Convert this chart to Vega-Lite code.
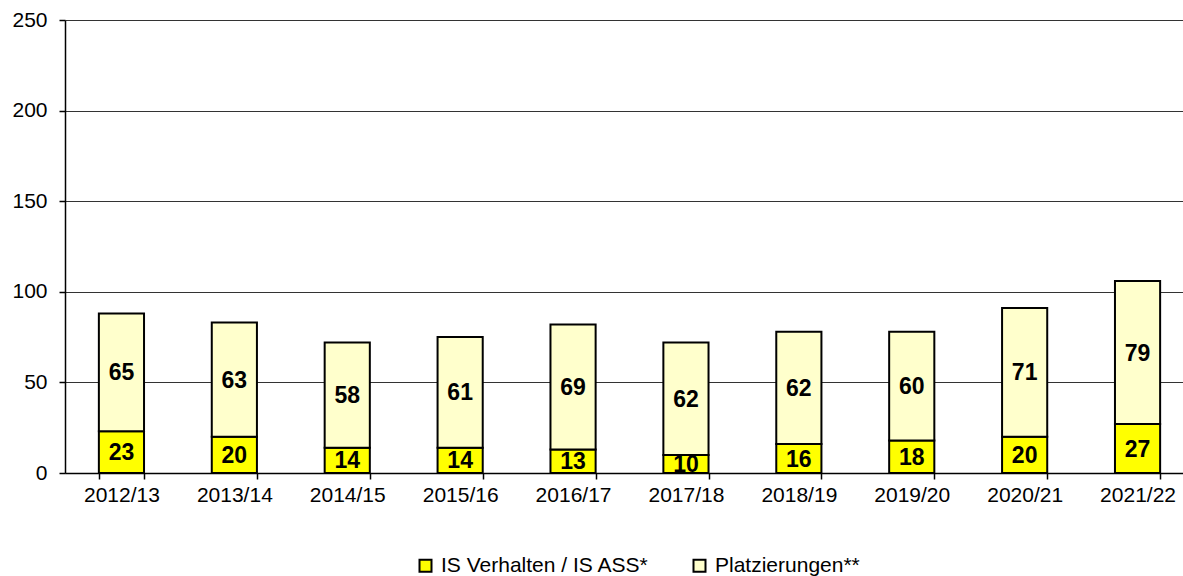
{
  "$schema": "https://vega.github.io/schema/vega-lite/v6.json",
  "autosize": {"type": "none"},
  "width": 1118,
  "height": 453,
  "padding": {"left": 65, "top": 20, "right": 0, "bottom": 103},
  "background": "white",
  "config": {
    "view": {"stroke": null},
    "font": "Liberation Sans",
    "axis": {"labelFont": "Liberation Sans", "labelFontSize": 21, "labelColor": "#000", "domainColor": "#000", "tickColor": "#000", "tickSize": 6, "domainWidth": 1.5, "tickWidth": 1.5}
  },
  "data": {
    "values": [
      {"year": "2012/13", "series": "IS Verhalten / IS ASS*", "ord": 1, "value": 23},
      {"year": "2012/13", "series": "Platzierungen**", "ord": 2, "value": 65},
      {"year": "2013/14", "series": "IS Verhalten / IS ASS*", "ord": 1, "value": 20},
      {"year": "2013/14", "series": "Platzierungen**", "ord": 2, "value": 63},
      {"year": "2014/15", "series": "IS Verhalten / IS ASS*", "ord": 1, "value": 14},
      {"year": "2014/15", "series": "Platzierungen**", "ord": 2, "value": 58},
      {"year": "2015/16", "series": "IS Verhalten / IS ASS*", "ord": 1, "value": 14},
      {"year": "2015/16", "series": "Platzierungen**", "ord": 2, "value": 61},
      {"year": "2016/17", "series": "IS Verhalten / IS ASS*", "ord": 1, "value": 13},
      {"year": "2016/17", "series": "Platzierungen**", "ord": 2, "value": 69},
      {"year": "2017/18", "series": "IS Verhalten / IS ASS*", "ord": 1, "value": 10},
      {"year": "2017/18", "series": "Platzierungen**", "ord": 2, "value": 62},
      {"year": "2018/19", "series": "IS Verhalten / IS ASS*", "ord": 1, "value": 16},
      {"year": "2018/19", "series": "Platzierungen**", "ord": 2, "value": 62},
      {"year": "2019/20", "series": "IS Verhalten / IS ASS*", "ord": 1, "value": 18},
      {"year": "2019/20", "series": "Platzierungen**", "ord": 2, "value": 60},
      {"year": "2020/21", "series": "IS Verhalten / IS ASS*", "ord": 1, "value": 20},
      {"year": "2020/21", "series": "Platzierungen**", "ord": 2, "value": 71},
      {"year": "2021/22", "series": "IS Verhalten / IS ASS*", "ord": 1, "value": 27},
      {"year": "2021/22", "series": "Platzierungen**", "ord": 2, "value": 79}
    ]
  },
  "transform": [
    {"stack": "value", "groupby": ["year"], "sort": [{"field": "ord", "order": "ascending"}], "as": ["v0", "v1"]},
    {"calculate": "(datum.v0 + datum.v1) / 2", "as": "vmid"}
  ],
  "encoding": {
    "x": {
      "field": "year", "type": "nominal", "sort": null,
      "scale": {"range": [0, 1129], "paddingInner": 0.6, "paddingOuter": 0.3},
      "axis": {"title": null, "labelAngle": 0, "tickBand": "extent", "labelPadding": 5, "grid": false}
    }
  },
  "layer": [
    {
      "mark": {"type": "bar", "stroke": "#000", "strokeWidth": 2},
      "encoding": {
        "y": {
          "field": "v0", "type": "quantitative",
          "scale": {"domain": [0, 250], "nice": false},
          "axis": {"title": null, "values": [0, 50, 100, 150, 200, 250], "labelPadding": 12, "grid": true, "gridColor": "#333", "gridWidth": 1}
        },
        "y2": {"field": "v1"},
        "color": {
          "field": "series", "type": "nominal",
          "scale": {"domain": ["IS Verhalten / IS ASS*", "Platzierungen**"], "range": ["#FFFF00", "#FFFFCC"]},
          "legend": {
            "title": null, "orient": "none", "direction": "horizontal",
            "legendX": 350, "legendY": 535, "padding": 0,
            "symbolType": "square", "symbolSize": 144, "symbolStrokeColor": "#000", "symbolStrokeWidth": 2,
            "labelFont": "Liberation Sans", "labelFontSize": 21, "labelColor": "#000", "labelOffset": 5, "labelLimit": 0,
            "columnPadding": 40
          }
        }
      }
    },
    {
      "mark": {"type": "text", "fontWeight": "bold", "fontSize": 23, "font": "Liberation Sans", "color": "#000", "baseline": "middle", "align": "center", "dy": 1},
      "encoding": {
        "y": {"field": "vmid", "type": "quantitative"},
        "text": {"field": "value", "type": "quantitative"}
      }
    }
  ]
}
